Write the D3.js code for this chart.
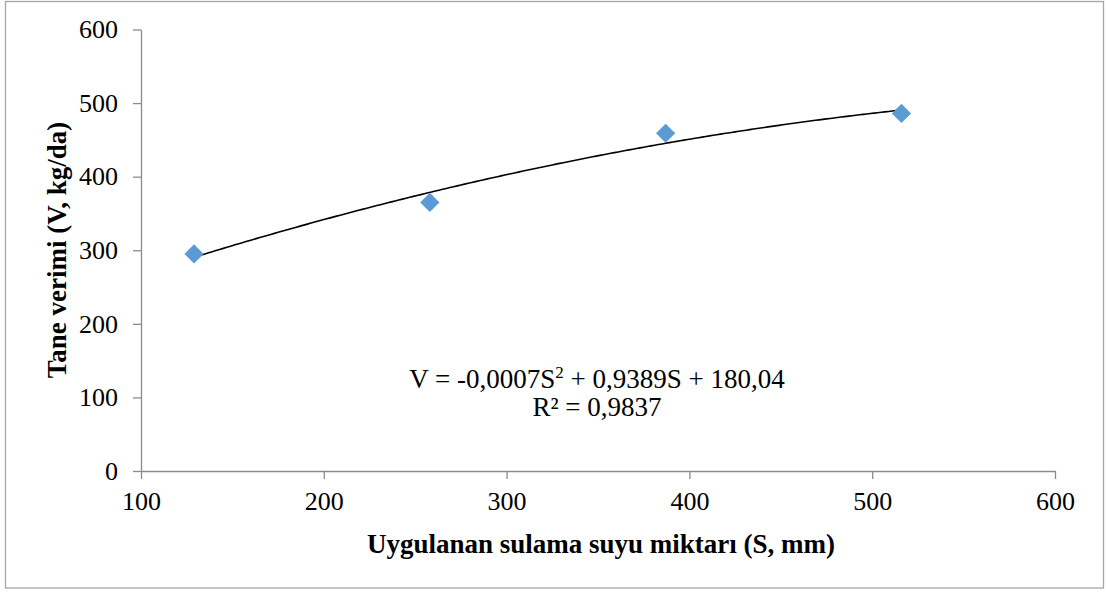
<!DOCTYPE html>
<html>
<head>
<meta charset="utf-8">
<script src="https://cdn.jsdelivr.net/npm/d3@7"></script>
<style>
  html, body { margin: 0; padding: 0; background: #fff; }
  svg { display: block; }
  svg text { font-family: 'Liberation Serif', 'Times New Roman', Tinos, 'DejaVu Serif', serif !important; fill: #000; }
</style>
</head>
<body>
<script>
// Data
const waterAmount = [129, 258, 387, 516];      // S, mm
const grainYield = [295, 365, 459, 486];        // V, kg/da
const xTicks = [100, 200, 300, 400, 500, 600];
const yTicks = [0, 100, 200, 300, 400, 500, 600];
const xTitle = "Uygulanan sulama suyu miktarı (S, mm)";
const yTitle = "Tane verimi (V, kg/da)";
const eqLine2 = "R² = 0,9837";

const W = 1107, H = 592;
const FS = 26, FT = 27;
const svg = d3.select("body").append("svg").attr("width", W).attr("height", H);

svg.append("rect").attr("x", 5.5).attr("y", 1.5).attr("width", 1098).attr("height", 586.5)
  .attr("fill", "#fff").attr("stroke", "#a6a6a6").attr("stroke-width", 1.3);

const x = d3.scaleLinear().domain([100, 600]).range([141, 1055]);
const y = d3.scaleLinear().domain([0, 600]).range([471, 29.5]);

const axisColor = "#8c8c8c";

// X axis
const gx = svg.append("g").attr("transform", `translate(0,${y(0)})`)
  .call(d3.axisBottom(x).tickValues(xTicks).tickSize(8).tickSizeOuter(0).tickPadding(13).tickFormat(d3.format("d")));
// Y axis
const gy = svg.append("g").attr("transform", `translate(${x(100)},0)`)
  .call(d3.axisLeft(y).tickValues(yTicks).tickSize(8).tickSizeOuter(0).tickPadding(15).tickFormat(d3.format("d")));

[gx, gy].forEach(g => {
  g.attr("font-family", null).attr("font-size", null);
  g.select(".domain").attr("stroke", axisColor).attr("stroke-width", 1.3);
  g.selectAll(".tick line").attr("stroke", axisColor).attr("stroke-width", 1.3);
  g.selectAll(".tick text").attr("font-size", FS).attr("fill", "#000");
});
gx.selectAll(".tick text").attr("dy", "0.71em");

// Quadratic least-squares trendline fit
function fitQuad(xs, ys) {
  const n = xs.length;
  let S = [0,0,0,0,0], T = [0,0,0];
  for (let i = 0; i < n; i++) {
    for (let k = 0; k <= 4; k++) S[k] += Math.pow(xs[i], k);
    for (let k = 0; k <= 2; k++) T[k] += Math.pow(xs[i], k) * ys[i];
  }
  const M = [[S[0],S[1],S[2],T[0]],[S[1],S[2],S[3],T[1]],[S[2],S[3],S[4],T[2]]];
  for (let i = 0; i < 3; i++) {
    let p = M[i][i];
    for (let j = i; j < 4; j++) M[i][j] /= p;
    for (let r = 0; r < 3; r++) if (r !== i) {
      const f = M[r][i];
      for (let j = i; j < 4; j++) M[r][j] -= f * M[i][j];
    }
  }
  return [M[0][3], M[1][3], M[2][3]]; // c, b, a
}
const [c0, c1, c2] = fitQuad(waterAmount, grainYield);
const xs = d3.range(waterAmount[0], waterAmount[waterAmount.length-1] + 0.001, 2);
const trend = xs.map(v => [v, c0 + c1*v + c2*v*v]);
svg.append("path").datum(trend)
  .attr("d", d3.line().x(d => x(d[0])).y(d => y(d[1])))
  .attr("fill", "none").attr("stroke", "#000").attr("stroke-width", 1.6);

// Markers (diamonds)
const sym = d3.symbol().type(d3.symbolSquare).size(185);
svg.selectAll(".pt").data(waterAmount.map((v,i) => [v, grainYield[i]])).enter()
  .append("path").attr("class", "pt")
  .attr("d", sym)
  .attr("transform", d => `translate(${x(d[0])},${y(d[1])}) rotate(45)`)
  .attr("fill", "#5b9bd5");

// Equation text
const eq = svg.append("text").attr("x", 597).attr("y", 388).attr("text-anchor", "middle").attr("font-size", FT);
eq.append("tspan").text("V = -0,0007S");
eq.append("tspan").text("2").attr("font-size", 17).attr("dy", -10);
eq.append("tspan").text(" + 0,9389S + 180,04").attr("dy", 10);
svg.append("text").attr("x", 597).attr("y", 416).attr("text-anchor", "middle").attr("font-size", FT).text(eqLine2);

// Axis titles
svg.append("text").attr("x", 601).attr("y", 553).attr("text-anchor", "middle")
  .attr("font-size", FT).attr("font-weight", "bold").text(xTitle);
svg.append("text").attr("transform", "translate(66,250) rotate(-90)").attr("text-anchor", "middle")
  .attr("font-size", FT).attr("font-weight", "bold").text(yTitle);
</script>
</body>
</html>
